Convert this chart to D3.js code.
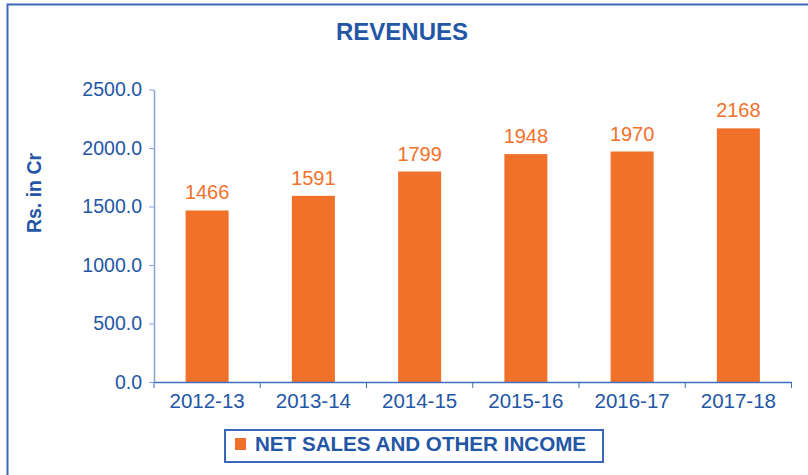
<!DOCTYPE html>
<html>
<head>
<meta charset="utf-8">
<script src="https://cdn.jsdelivr.net/npm/d3@7"></script>
<style>
  body { margin: 0; background: #fff; }
  text { font-family: "Liberation Sans", Arial, sans-serif; }
</style>
</head>
<body>
<div id="chart"></div>
<script>
// data
var years = ['2012-13', '2013-14', '2014-15', '2015-16', '2016-17', '2017-18'];
var revenues = [1466, 1591, 1799, 1948, 1970, 2168];
var yTicks = [0, 500, 1000, 1500, 2000, 2500];
var seriesName = 'NET SALES AND OTHER INCOME';

var attrs = {
  width: 808,
  height: 475,
  plotLeft: 154,
  plotRight: 791.5,
  plotTop: 89.5,
  plotBottom: 382,
  textColor: '#2456a6',
  barColor: '#f1712a',
  labelColor: '#f1712a',
  frameColor: '#3b68b8'
};

var svg = d3.select('#chart').append('svg')
  .attr('width', attrs.width)
  .attr('height', attrs.height);

// outer frame (runs off the right and bottom edges)
svg.append('rect')
  .attr('x', 7.5).attr('y', 4.5)
  .attr('width', 900).attr('height', 600)
  .attr('fill', 'none')
  .attr('stroke', attrs.frameColor)
  .attr('stroke-width', 2);

// title
svg.append('text')
  .attr('x', 402).attr('y', 40)
  .attr('text-anchor', 'middle')
  .attr('font-size', 24).attr('font-weight', 'bold')
  .attr('fill', attrs.textColor)
  .text('REVENUES');

// scales
var x = d3.scaleBand().domain(years).range([attrs.plotLeft, attrs.plotRight]).padding(0);
var y = d3.scaleLinear().domain([0, 2500]).range([attrs.plotBottom, attrs.plotTop]);
var barW = x.bandwidth() * 0.405;

// y axis
var yAxis = svg.append('g')
  .attr('transform', 'translate(' + attrs.plotLeft + ',0)')
  .call(d3.axisLeft(y).tickValues(yTicks).tickFormat(d3.format('.1f')).tickSize(5).tickSizeOuter(0).tickPadding(7));
yAxis.select('.domain').attr('stroke', '#86a3d3').attr('stroke-width', 1.5);
yAxis.selectAll('.tick line').attr('stroke', '#86a3d3');
yAxis.selectAll('text')
  .attr('font-size', 19.5)
  .attr('font-family', '"Liberation Sans", Arial, sans-serif')
  .attr('fill', attrs.textColor);

// y title
svg.append('text')
  .attr('transform', 'translate(41,193) rotate(-90)')
  .attr('text-anchor', 'middle')
  .attr('font-size', 19.5).attr('font-weight', 'bold')
  .attr('fill', attrs.textColor)
  .text('Rs. in Cr');

// bars
svg.selectAll('.bar').data(revenues).enter().append('rect')
  .attr('class', 'bar')
  .attr('x', (d, i) => x(years[i]) + (x.bandwidth() - barW) / 2)
  .attr('y', d => y(d))
  .attr('width', barW)
  .attr('height', d => y(0) - y(d))
  .attr('fill', attrs.barColor);

// value labels
svg.selectAll('.val').data(revenues).enter().append('text')
  .attr('class', 'val')
  .attr('x', (d, i) => x(years[i]) + x.bandwidth() / 2)
  .attr('y', d => y(d) - 11)
  .attr('text-anchor', 'middle')
  .attr('font-size', 20)
  .attr('fill', attrs.labelColor)
  .text(d => d);

// x axis: labels at band centers, ticks at band edges
var xAxis = svg.append('g')
  .attr('transform', 'translate(0,' + attrs.plotBottom + ')')
  .call(d3.axisBottom(x).tickSize(0).tickPadding(11));
xAxis.select('.domain').attr('stroke', '#3f6fc0').attr('stroke-width', 1.5);
xAxis.selectAll('text')
  .attr('font-size', 20.5)
  .attr('font-family', '"Liberation Sans", Arial, sans-serif')
  .attr('fill', attrs.textColor);
var edges = years.map(d => x(d)).concat([attrs.plotRight]);
xAxis.selectAll('.edge').data(edges).enter().append('line')
  .attr('class', 'edge')
  .attr('x1', d => d).attr('x2', d => d)
  .attr('y1', 0).attr('y2', 6)
  .attr('stroke', '#3f6fc0');

// legend
var legend = svg.append('g').attr('transform', 'translate(225,430)');
legend.append('rect')
  .attr('x', 0).attr('y', 0)
  .attr('width', 378).attr('height', 32)
  .attr('fill', '#fff')
  .attr('stroke', attrs.frameColor)
  .attr('stroke-width', 2);
legend.append('rect')
  .attr('x', 10).attr('y', 8)
  .attr('width', 11).attr('height', 12)
  .attr('fill', attrs.barColor);
legend.append('text')
  .attr('x', 30).attr('y', 21)
  .attr('font-size', 20.6).attr('font-weight', 'bold')
  .attr('fill', attrs.textColor)
  .text(seriesName);
</script>
</body>
</html>
